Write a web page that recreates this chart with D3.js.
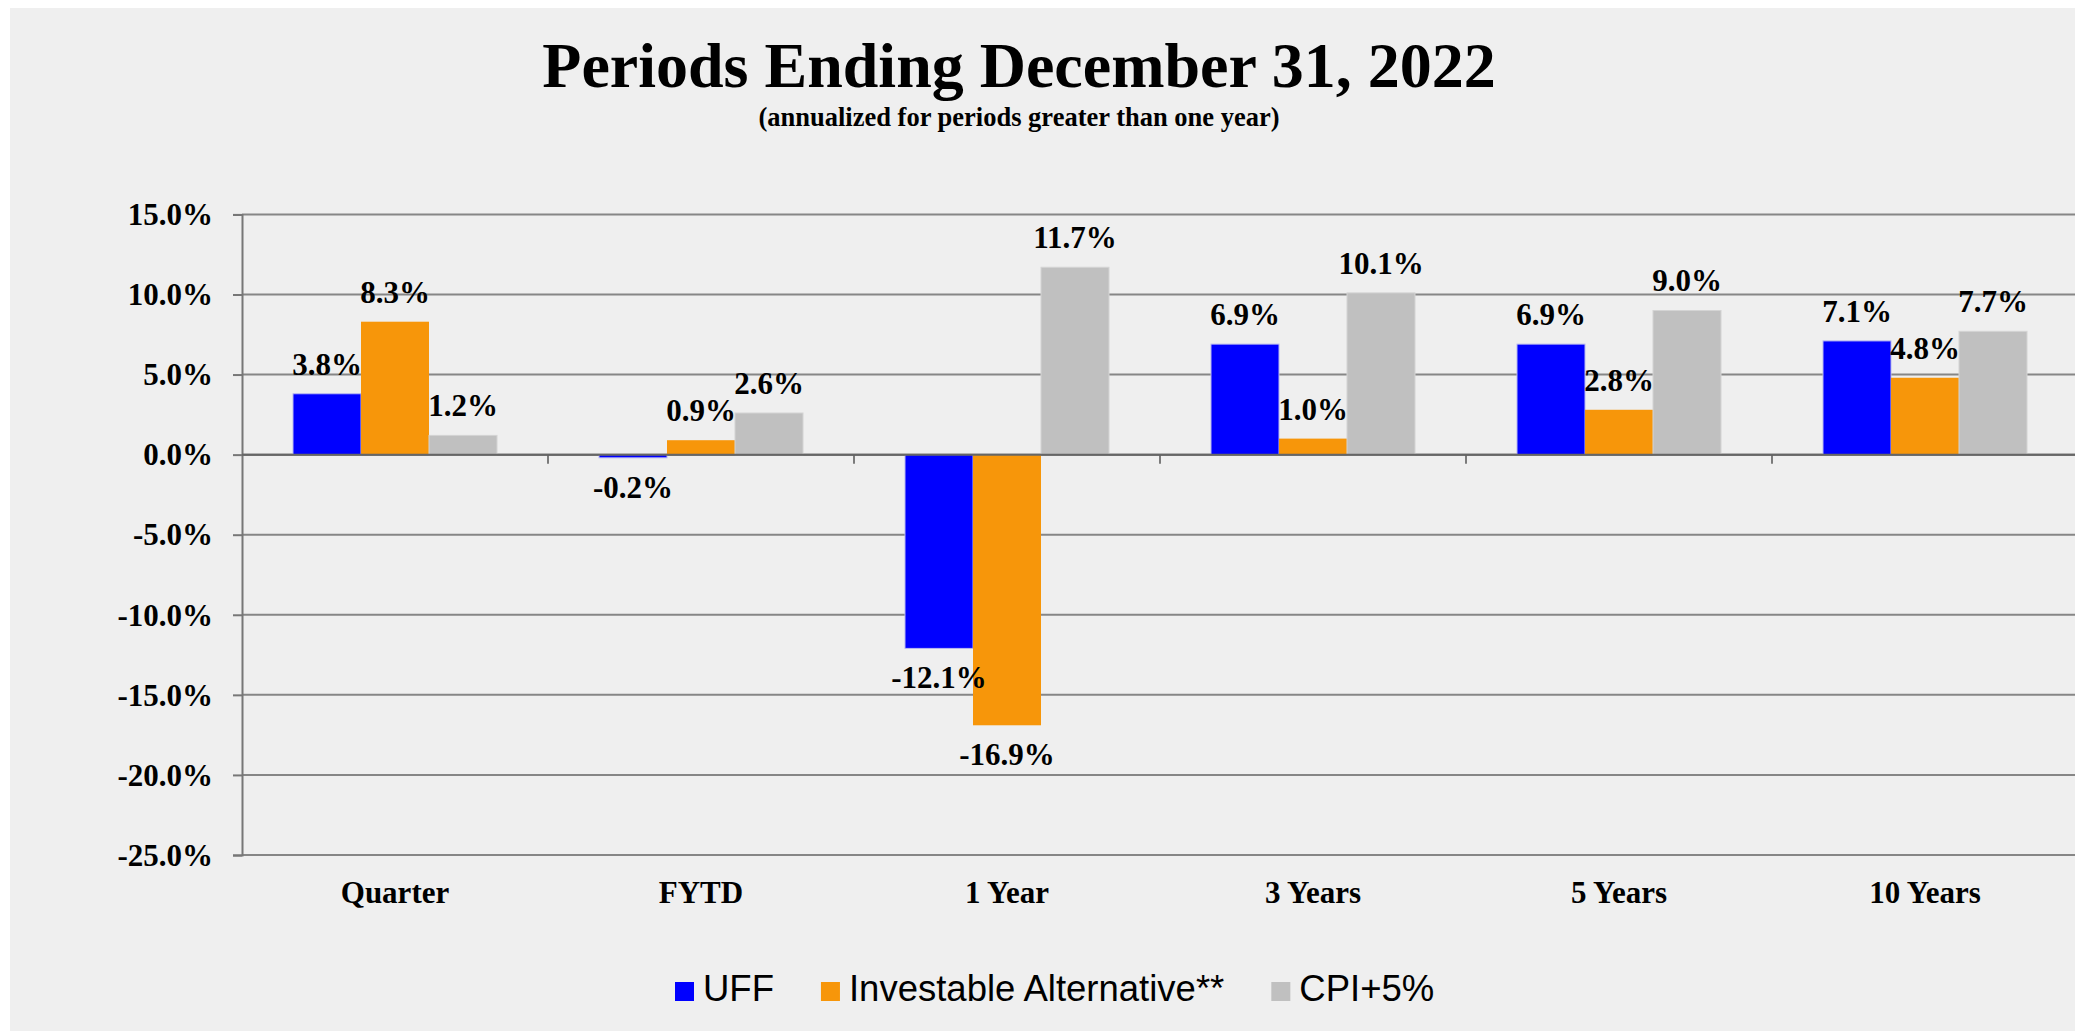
<!DOCTYPE html>
<html>
<head>
<meta charset="utf-8">
<script src="https://cdn.jsdelivr.net/npm/d3@7"></script>
<style>
  html, body { margin: 0; padding: 0; background: #ffffff; }
  svg { display: block; }
</style>
</head>
<body>
<svg id="chart" width="2075" height="1031"></svg>
<script>
// Periods and series
const categories = ["Quarter", "FYTD", "1 Year", "3 Years", "5 Years", "10 Years"];
const seriesNames = ["UFF", "Investable Alternative**", "CPI+5%"];
const seriesColors = ["#0000ff", "#f7960a", "#c0c0c0"];

// Returns in percent
const uff        = [3.8, -0.2, -12.1, 6.9, 6.9, 7.1];
const investable = [8.3,  0.9, -16.9, 1.0, 2.8, 4.8];
const cpiPlus5   = [1.2,  2.6,  11.7, 10.1, 9.0, 7.7];

const yTicks = [15, 10, 5, 0, -5, -10, -15, -20, -25];

const titleText = "Periods Ending December 31, 2022";
const subtitleText = "(annualized for periods greater than one year)";

const seriesValues = [uff, investable, cpiPlus5];
const rows = categories.map((c, i) => ({
  category: c,
  values: seriesNames.map((s, j) => ({ series: s, color: seriesColors[j], value: seriesValues[j][i] }))
}));

const svg = d3.select("#chart");
const W = 2075, H = 1031;
const serif = "'Liberation Serif', 'Times New Roman', serif";
const sans = "'Liberation Sans', Arial, sans-serif";

// panel background
svg.append("rect")
  .attr("x", 10).attr("y", 8)
  .attr("width", W - 10).attr("height", H - 8)
  .attr("fill", "#efefef");

// scales
const plotLeft = 242, plotRight = 2078, plotTop = 214.4, plotBottom = 855;
const x0 = d3.scaleBand().domain(categories).range([plotLeft, plotRight]).padding(0);
const x1 = d3.scaleBand().domain(seriesNames).range([0, x0.bandwidth()])
  .paddingInner(0).paddingOuter(0.75);
const y = d3.scaleLinear().domain([-25, 15]).range([plotBottom, plotTop]);

// horizontal gridlines
svg.append("g").selectAll("line").data(yTicks).join("line")
  .attr("x1", plotLeft).attr("x2", plotRight)
  .attr("y1", d => y(d)).attr("y2", d => y(d))
  .attr("stroke", d => d === 0 ? "#666666" : "#868686")
  .attr("stroke-width", 2);

// value axis with its tick labels
const yAxis = svg.append("g")
  .attr("transform", `translate(${plotLeft},0)`)
  .call(d3.axisLeft(y).tickValues(yTicks).tickSize(9).tickPadding(20)
    .tickFormat(d => d.toFixed(1) + "%"));
yAxis.select(".domain").attr("stroke", "#777777").attr("stroke-width", 2);
yAxis.selectAll(".tick line").attr("stroke", "#777777").attr("stroke-width", 2);
yAxis.selectAll(".tick text")
  .attr("font-family", serif).attr("font-weight", "bold")
  .attr("font-size", 31).attr("fill", "#000").attr("dy", "0.33em");

// bars
const groups = svg.append("g").selectAll("g").data(rows).join("g")
  .attr("transform", d => `translate(${x0(d.category)},0)`);

groups.selectAll("rect").data(d => d.values).join("rect")
  .attr("x", d => x1(d.series))
  .attr("width", x1.bandwidth())
  .attr("y", d => y(Math.max(0, d.value)))
  .attr("height", d => Math.abs(y(d.value) - y(0)))
  .attr("fill", d => d.color)
  .attr("stroke", d => d.color === "#0000ff" ? "#b8b8f0" : (d.color === "#c0c0c0" ? "#d4d4d4" : "none"))
  .attr("stroke-width", 1);

// category separators on the zero line
svg.append("g").selectAll("line").data(categories.slice(1)).join("line")
  .attr("x1", d => x0(d)).attr("x2", d => x0(d))
  .attr("y1", y(0)).attr("y2", y(0) + 9)
  .attr("stroke", "#555555").attr("stroke-width", 1.5);

// zero line drawn again over the bars' bases
svg.append("line")
  .attr("x1", plotLeft).attr("x2", plotRight)
  .attr("y1", y(0)).attr("y2", y(0))
  .attr("stroke", "#666666").attr("stroke-width", 2);

// data labels
groups.selectAll("text").data(d => d.values).join("text")
  .attr("x", d => x1(d.series) + x1.bandwidth() / 2)
  .attr("y", d => d.value >= 0 ? y(d.value) - 19 : y(d.value) + 40)
  .attr("text-anchor", "middle")
  .attr("font-family", serif).attr("font-weight", "bold")
  .attr("font-size", 31).attr("fill", "#000")
  .text(d => d.value.toFixed(1) + "%");

// category labels
svg.append("g").selectAll("text").data(categories).join("text")
  .attr("x", d => x0(d) + x0.bandwidth() / 2)
  .attr("y", 903)
  .attr("text-anchor", "middle")
  .attr("font-family", serif).attr("font-weight", "bold")
  .attr("font-size", 31).attr("fill", "#000")
  .text(d => d);

// titles
svg.append("text")
  .attr("x", 1019).attr("y", 87)
  .attr("text-anchor", "middle")
  .attr("font-family", serif).attr("font-weight", "bold")
  .attr("font-size", 64).attr("fill", "#000")
  .text(titleText);
svg.append("text")
  .attr("x", 1019).attr("y", 126)
  .attr("text-anchor", "middle")
  .attr("font-family", serif).attr("font-weight", "bold")
  .attr("font-size", 26.5).attr("fill", "#000")
  .text(subtitleText);

// legend
const legend = svg.append("g");
let lx = 675;
seriesNames.forEach((name, i) => {
  legend.append("rect")
    .attr("x", lx).attr("y", 982)
    .attr("width", 19).attr("height", 19)
    .attr("fill", seriesColors[i]);
  const t = legend.append("text")
    .attr("x", lx + 28).attr("y", 1001)
    .attr("font-family", sans).attr("font-size", 36.5).attr("fill", "#000")
    .text(name);
  lx += 28 + t.node().getComputedTextLength() + 47;
});
</script>
</body>
</html>
